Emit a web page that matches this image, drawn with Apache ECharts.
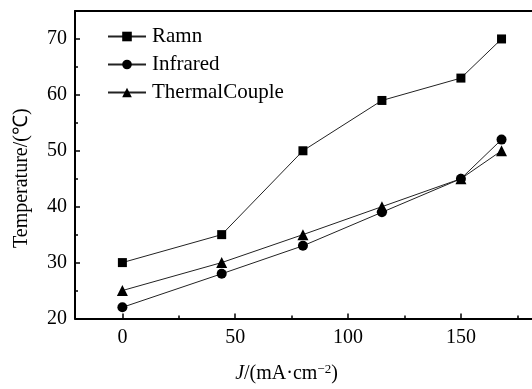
<!DOCTYPE html>
<html><head><meta charset="utf-8">
<script src="https://cdn.jsdelivr.net/npm/echarts@6/dist/echarts.min.js"></script>
<style>html,body{margin:0;padding:0;background:#fff}#c{width:532px;height:389px}</style>
</head><body><div id="c"></div>
<script>
var currentJ = [0, 44, 80, 115, 150, 168];
var ramn = [30, 35, 50, 59, 63, 70];
var infrared = [22, 28, 33, 39, 45, 52];
var thermal = [25, 30, 35, 40, 45, 50];
var xMajor = [0, 50, 100, 150];
var xMinor = [25, 75, 125, 175];
var yMajor = [20, 30, 40, 50, 60, 70];
var yMinor = [25, 35, 45, 55, 65];

function pairs(ys){ return currentJ.map(function(x,i){ return [x, ys[i]]; }); }

var font = 'Liberation Serif';
var chart = echarts.init(document.getElementById('c'), null, {renderer:'canvas'});
var axisBase = {type:'value', min:-21, max:181.5, splitLine:{show:false}};
chart.setOption({
  animation:false,
  grid:{left:75, top:11, bottom:63, right:0, show:false, containLabel:false},
  legend:{
    left:102, top:21, orient:'vertical', itemWidth:38, itemHeight:12, itemGap:7,
    textStyle:{fontFamily:font, fontSize:21, color:'#000', lineHeight:20, padding:[0,0,0,1]},
    data:['Ramn','Infrared','ThermalCouple']
  },
  xAxis:[
    Object.assign({}, axisBase, {
      position:'bottom',
      axisLine:{onZero:false, lineStyle:{color:'#000', width:2}},
      axisTick:{inside:true, length:5, customValues:xMajor, lineStyle:{color:'#000', width:1.5}},
      axisLabel:{customValues:xMajor, fontFamily:font, fontSize:20, color:'#000', margin:9},
      name:'{i|J}/(mA·cm{s|−2})', nameLocation:'middle', nameGap:45,
      nameTextStyle:{fontFamily:font, fontSize:20, color:'#000', padding:[0,34,0,0],
        rich:{i:{fontFamily:font, fontStyle:'italic', fontSize:20}, s:{fontFamily:font, fontSize:13, verticalAlign:'top', padding:[0,0,8,0]}}}
    }),
    Object.assign({}, axisBase, {
      position:'bottom',
      axisLine:{show:false, onZero:false},
      axisTick:{inside:true, length:3, customValues:xMinor, lineStyle:{color:'#000', width:1.5}},
      axisLabel:{show:false}
    }),
    Object.assign({}, axisBase, {
      position:'top',
      axisLine:{show:true, onZero:false, lineStyle:{color:'#000', width:2}},
      axisTick:{show:false},
      axisLabel:{show:false}
    })
  ],
  yAxis:[
    {type:'value', min:20, max:75, position:'left', splitLine:{show:false},
      axisLine:{show:true, onZero:false, lineStyle:{color:'#000', width:2}},
      axisTick:{inside:true, length:5, customValues:yMajor, lineStyle:{color:'#000', width:1.5}},
      axisLabel:{customValues:yMajor, fontFamily:font, fontSize:20, color:'#000', margin:8},
      name:'Temperature/(℃)', nameLocation:'middle', nameGap:43, nameRotate:90,
      nameTextStyle:{fontFamily:font, fontSize:20, color:'#000', padding:[0,27,0,0]}
    },
    {type:'value', min:20, max:75, position:'left', splitLine:{show:false},
      axisLine:{show:false, onZero:false},
      axisTick:{inside:true, length:3, customValues:yMinor, lineStyle:{color:'#000', width:1.5}},
      axisLabel:{show:false}
    }
  ],
  series:[
    {name:'Ramn', type:'line', data:pairs(ramn), symbol:'rect', symbolSize:9,
      lineStyle:{color:'#222', width:1}, itemStyle:{color:'#000'}},
    {name:'Infrared', type:'line', data:pairs(infrared), symbol:'circle', symbolSize:10,
      lineStyle:{color:'#222', width:1}, itemStyle:{color:'#000'}},
    {name:'ThermalCouple', type:'line', data:pairs(thermal), symbol:'triangle', symbolSize:11,
      lineStyle:{color:'#222', width:1}, itemStyle:{color:'#000'}}
  ]
});
</script></body></html>
